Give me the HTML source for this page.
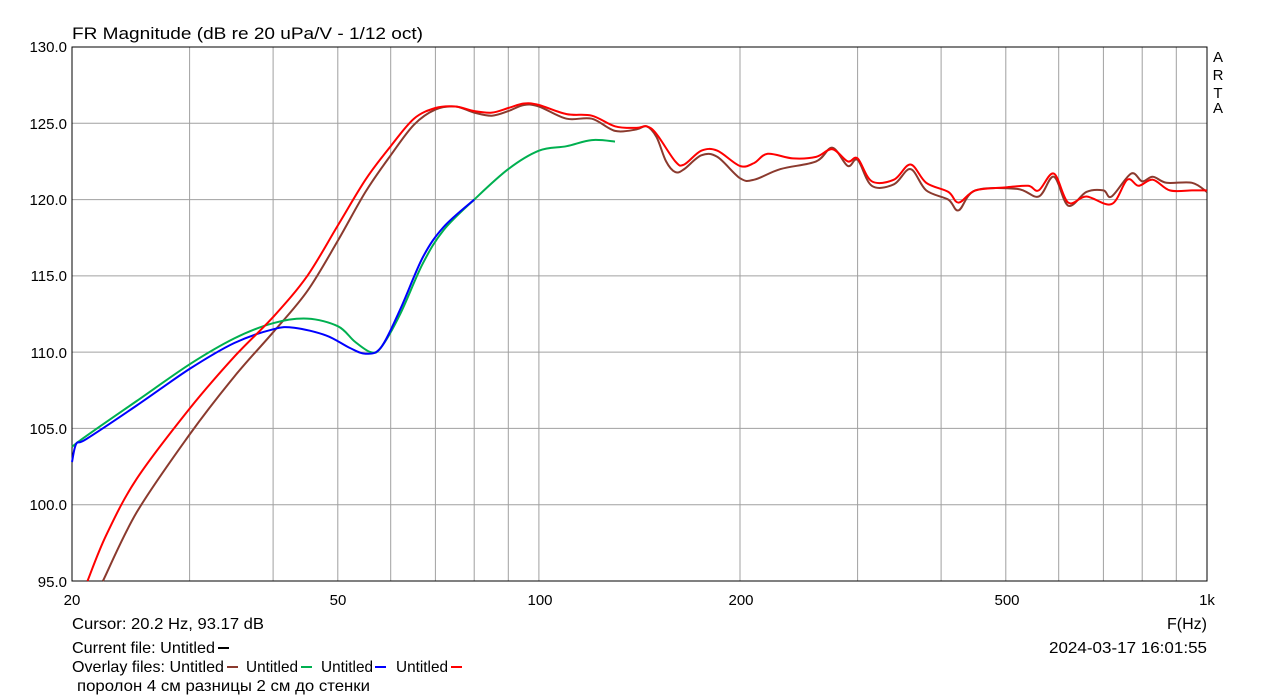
<!DOCTYPE html>
<html><head><meta charset="utf-8"><style>
html,body{margin:0;padding:0;background:#fff;}
svg{display:block;font-family:"Liberation Sans",sans-serif;}
</style></head><body>
<svg id="s" width="1279" height="699" xmlns="http://www.w3.org/2000/svg">
<rect width="1279" height="699" fill="#fff"/>
<g id="grid" stroke="#a0a0a0" stroke-width="1"></g>
<rect x="72" y="47" width="1135" height="534" fill="none" stroke="#000" stroke-width="1"/>
<text x="72" y="39" font-size="17" textLength="351" lengthAdjust="spacingAndGlyphs">FR Magnitude (dB re 20 uPa/V - 1/12 oct)</text>
<g font-size="15" text-anchor="end">
<text x="67" y="52">130.0</text><text x="67" y="129">125.0</text><text x="67" y="205">120.0</text>
<text x="67" y="281">115.0</text><text x="67" y="358">110.0</text><text x="67" y="434">105.0</text>
<text x="67" y="510">100.0</text><text x="67" y="587">95.0</text>
</g>
<g font-size="15" text-anchor="middle">
<text x="72" y="605">20</text><text x="338" y="605">50</text><text x="540" y="605">100</text>
<text x="741" y="605">200</text><text x="1007" y="605">500</text><text x="1207" y="605">1k</text>
</g>
<g font-size="15" text-anchor="middle">
<text x="1218" y="62">A</text><text x="1218" y="80">R</text><text x="1218" y="98">T</text><text x="1218" y="113">A</text>
</g>
<g font-size="16">
<text x="72" y="629" textLength="192" lengthAdjust="spacingAndGlyphs">Cursor: 20.2 Hz, 93.17 dB</text>
<text x="1207" y="629" text-anchor="end">F(Hz)</text>
<text x="72" y="653" textLength="143" lengthAdjust="spacingAndGlyphs">Current file: Untitled</text>
<line x1="218" y1="648" x2="229" y2="648" stroke="#000" stroke-width="2"/>
<text x="1049" y="653" textLength="158" lengthAdjust="spacingAndGlyphs">2024-03-17  16:01:55</text>
<text x="72" y="672" textLength="152" lengthAdjust="spacingAndGlyphs">Overlay files: Untitled</text>
<line x1="227" y1="667" x2="238" y2="667" stroke="#8b3a2e" stroke-width="2"/>
<text x="246" y="672" textLength="52" lengthAdjust="spacingAndGlyphs">Untitled</text>
<line x1="301" y1="667" x2="312" y2="667" stroke="#00b050" stroke-width="2"/>
<text x="321" y="672" textLength="52" lengthAdjust="spacingAndGlyphs">Untitled</text>
<line x1="375" y1="667" x2="386" y2="667" stroke="#0000ff" stroke-width="2"/>
<text x="396" y="672" textLength="52" lengthAdjust="spacingAndGlyphs">Untitled</text>
<line x1="451" y1="667" x2="462" y2="667" stroke="#ff0000" stroke-width="2"/>
<text x="77" y="691" textLength="293" lengthAdjust="spacingAndGlyphs">поролон 4 см разницы 2 см до стенки</text>
</g>
<g id="curves" fill="none" stroke-width="2"></g>
</svg>
<script>
const X=f=>72+(Math.log10(f)-1.30103)*668;
const Y=d=>47+(130-d)*534/35;
const g=document.getElementById('grid');let h='';
[20,30,40,50,60,70,80,90,100,200,300,400,500,600,700,800,900].forEach(f=>{const x=X(f).toFixed(1);h+=`<line x1="${x}" y1="47" x2="${x}" y2="581"/>`;});
for(let d=95;d<=130;d+=5){const y=Y(d).toFixed(1);h+=`<line x1="72" y1="${y}" x2="1207" y2="${y}"/>`;}
g.innerHTML=h;
function path(data){const p=data.map(a=>[X(a[0]),Y(a[1])]);let s=`M${p[0][0].toFixed(1)},${p[0][1].toFixed(1)}`;
for(let i=0;i<p.length-1;i++){const p0=p[i-1]||p[i],p1=p[i],p2=p[i+1],p3=p[i+2]||p2;
const c1=[p1[0]+(p2[0]-p0[0])/6,p1[1]+(p2[1]-p0[1])/6],c2=[p2[0]-(p3[0]-p1[0])/6,p2[1]-(p3[1]-p1[1])/6];
s+=`C${c1[0].toFixed(1)},${c1[1].toFixed(1)} ${c2[0].toFixed(1)},${c2[1].toFixed(1)} ${p2[0].toFixed(1)},${p2[1].toFixed(1)}`;}return s;}
const brown=[[22.25,95],[25,99.5],[30,104.6],[35,108.4],[40,111.3],[45,114],[50,117.3],[55,120.5],[60,122.9],[65,124.9],[70,125.9],[75,126.1],[80,125.7],[85,125.5],[90,125.8],[95,126.2],[100,126.1],[110,125.3],[120,125.3],[130,124.5],[140,124.6],[145,124.8],[150,124.1],[155,122.5],[160,121.8],[165,122],[175,122.9],[185,122.8],[200,121.4],[210,121.3],[230,122],[260,122.5],[275,123.4],[290,122.2],[300,122.6],[315,120.9],[340,121],[360,122],[380,120.6],[410,120],[425,119.3],[450,120.6],[520,120.7],[560,120.2],[590,121.5],[620,119.6],[660,120.5],[700,120.6],[720,120.2],[770,121.7],[800,121.2],[830,121.5],[870,121.1],[950,121.1],[1000,120.5]];
const red=[[21.1,95],[22.5,98],[25,101.7],[30,106.3],[35,109.7],[40,112.3],[45,115],[50,118.3],[55,121.3],[60,123.5],[65,125.3],[70,126],[75,126.1],[80,125.8],[85,125.7],[90,126],[95,126.3],[100,126.2],[110,125.6],[120,125.5],[130,124.8],[140,124.7],[145,124.8],[150,124.3],[160,122.5],[165,122.3],[175,123.2],[185,123.2],[200,122.2],[210,122.4],[220,123],[240,122.7],[260,122.8],[275,123.3],[290,122.5],[300,122.7],[315,121.2],[340,121.3],[360,122.3],[380,121.1],[410,120.5],[425,119.8],[450,120.6],[500,120.8],[540,120.9],[560,120.6],[590,121.7],[620,119.8],[660,120.2],[720,119.7],[760,121.3],[790,120.9],[830,121.3],[880,120.6],[950,120.6],[1000,120.6]];
const green=[[20,103.8],[21,104.5],[25,106.8],[30,109.2],[35,110.9],[40,111.9],[45,112.2],[50,111.7],[53,110.7],[56,110],[58,110.3],[62,112.5],[67,115.8],[72,118],[80,120],[90,122],[100,123.2],[110,123.5],[120,123.9],[130,123.8]];
const blue=[[20,102.8],[20.3,104],[21,104.3],[25,106.5],[30,108.9],[35,110.6],[40,111.5],[43,111.6],[48,111.1],[52,110.3],[55,109.9],[58,110.3],[62,112.8],[67,116.2],[72,118.2],[80,120]];
document.getElementById('curves').innerHTML=
`<path d="${path(brown)}" stroke="#8b3a2e"/><path d="${path(green)}" stroke="#00b050"/><path d="${path(blue)}" stroke="#0000ff"/><path d="${path(red)}" stroke="#ff0000"/>`;
</script>
</body></html>
